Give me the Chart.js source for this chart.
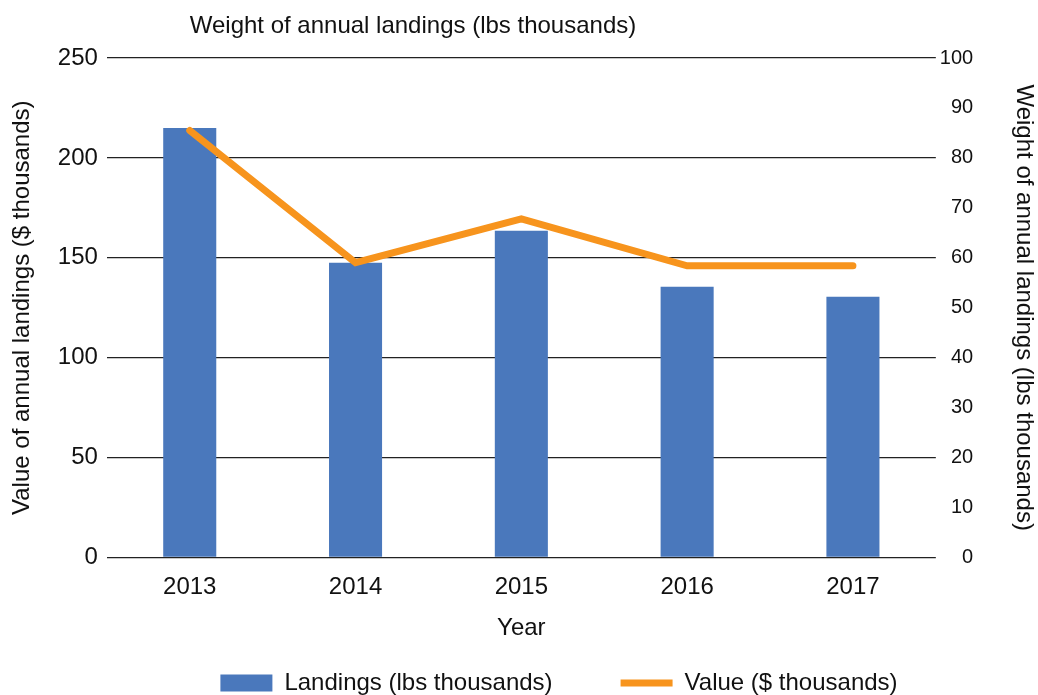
<!DOCTYPE html>
<html>
<head>
<meta charset="utf-8">
<script src="https://cdn.jsdelivr.net/npm/chart.js@4"></script>
<style>
  body { margin: 0; background: #fff; }
  .wrap { position: relative; width: 1038px; height: 695px; }
  .topTitle {
    position: absolute; left: 0; top: 11px; width: 826px; text-align: center;
    font-family: 'Liberation Sans', Arial, sans-serif; font-size: 24px; line-height: 28px; color: #111;
  }
</style>
</head>
<body>
<div class="wrap">
  <canvas id="landingsChart" width="1038" height="695"></canvas>
  <div class="topTitle">Weight of annual landings (lbs thousands)</div>
</div>
<script>
const years = ['2013', '2014', '2015', '2016', '2017'];
const landings = [215, 147.5, 163.5, 135.5, 130.5];
const value = [85.5, 59, 67.8, 58.4, 58.4];

const blue = '#4A78BC';
const orange = '#F7941D';
const family = "'Liberation Sans', Arial, sans-serif";
const bigFont = { family, size: 24 };
const smallFont = { family, size: 20 };

Chart.defaults.font = bigFont;
Chart.defaults.color = '#111';

// legend in the original sits a bit right of the canvas centre
const legendShift = {
  id: 'legendShift',
  afterLayout(chart) {
    chart.legend.left += 36;
    chart.legend.right += 36;
  },
};

const ctx = document.getElementById('landingsChart');

new Chart(ctx, {
  data: {
    labels: years,
    datasets: [
      {
        type: 'line',
        label: 'Value ($ thousands)',
        data: value,
        yAxisID: 'y1',
        borderColor: orange,
        backgroundColor: orange,
        borderWidth: 7,
        borderCapStyle: 'round',
        borderJoinStyle: 'miter',
        pointRadius: 0,
        tension: 0,
        order: 0,
      },
      {
        type: 'bar',
        label: 'Landings (lbs thousands)',
        data: landings,
        yAxisID: 'y',
        backgroundColor: blue,
        categoryPercentage: 1,
        barPercentage: 0.32,
        order: 1,
      },
    ],
  },
  plugins: [legendShift],
  options: {
    responsive: false,
    animation: false,
    layout: { padding: { top: 58, left: 8, right: 0, bottom: -10 } },
    plugins: {
      tooltip: { enabled: false },
      legend: {
        position: 'bottom',
        labels: {
          usePointStyle: true,
          pointStyleWidth: 52,
          boxHeight: 17,
          padding: 68,
          color: '#111',
          generateLabels: (chart) => {
            // bar first, line second, like the original legend
            return [1, 0].map((i) => {
              const ds = chart.data.datasets[i];
              const isBar = ds.type === 'bar';
              return {
                text: ds.label,
                datasetIndex: i,
                fillStyle: isBar ? blue : orange,
                strokeStyle: isBar ? blue : orange,
                lineWidth: isBar ? 0 : 7,
                pointStyle: isBar ? 'rect' : 'line',
                fontColor: '#111',
              };
            });
          },
        },
      },
    },
    scales: {
      x: {
        grid: { display: false, drawTicks: false },
        border: { display: false },
        ticks: { padding: 16 },
        // negative bottom padding lets the title sit in the legend's top gap
        title: { display: true, text: 'Year', padding: { top: -4, bottom: -40 } },
      },
      y: {
        position: 'left',
        min: 0,
        max: 250,
        ticks: { stepSize: 50, padding: 9 },
        grid: { color: '#222', lineWidth: 1.3, drawTicks: false },
        border: { display: false },
        title: {
          display: true,
          text: 'Value of annual landings ($ thousands)',
          padding: { top: 0, bottom: 12 },
        },
      },
      y1: {
        position: 'right',
        min: 0,
        max: 100,
        weight: 0,
        ticks: { stepSize: 10, padding: 2, font: smallFont, crossAlign: 'far' },
        grid: { display: false, drawTicks: false },
        border: { display: false },
      },
      // title only axis, so the y1 labels can be right aligned
      y1Title: {
        position: 'right',
        weight: 1,
        ticks: { display: false },
        grid: { display: false, drawTicks: false },
        border: { display: false },
        title: {
          display: true,
          text: 'Weight of annual landings (lbs thousands)',
          padding: { top: 0, bottom: 36 },
        },
      },
    },
  },
});
</script>
</body>
</html>
